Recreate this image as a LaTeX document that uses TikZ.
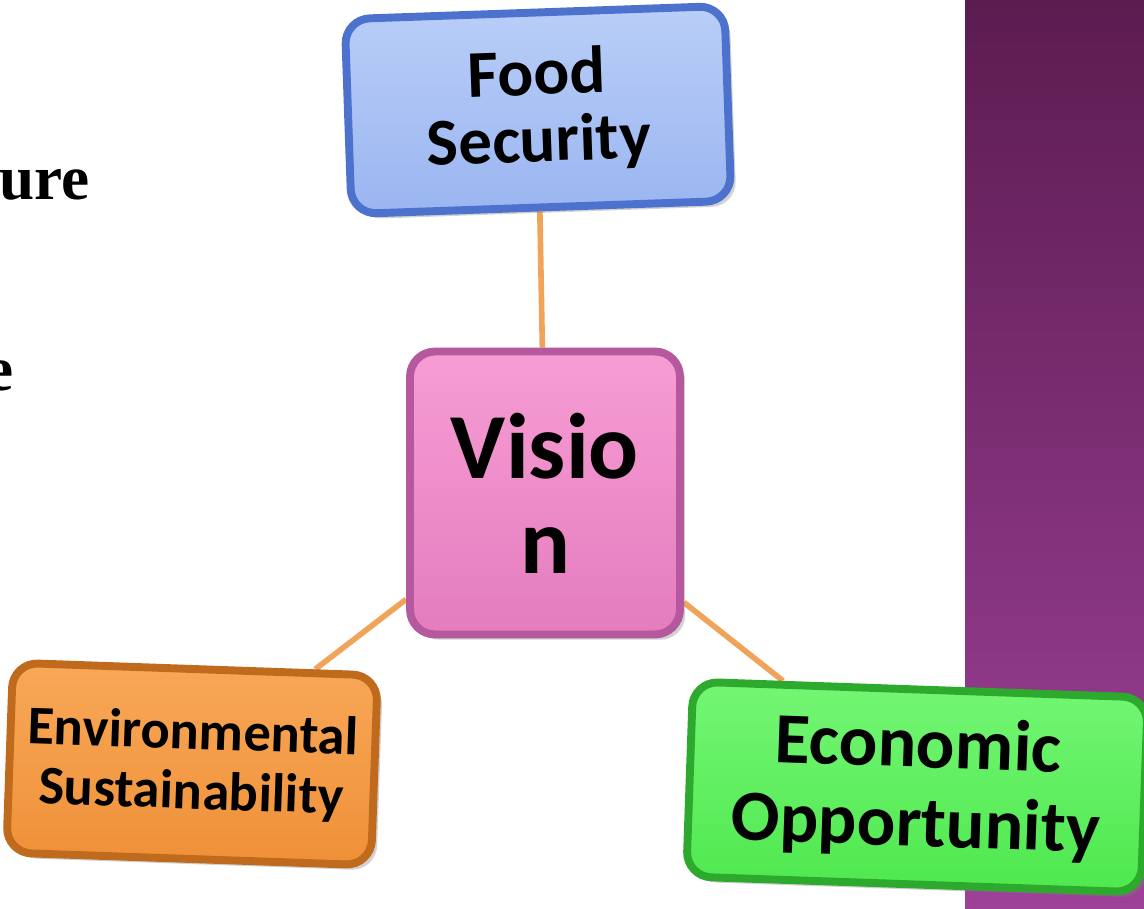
\documentclass[tikz,border=0pt]{standalone}
\usepackage{fontspec}
\setmainfont{Carlito}
\newfontfamily\slidefont{Liberation Serif}
\usetikzlibrary{shadows,backgrounds}

\definecolor{linkorange}{HTML}{F2A35A}
\definecolor{foodtop}{HTML}{B9CEF8}
\definecolor{foodbot}{HTML}{9AB5F0}
\definecolor{foodedge}{HTML}{4C72CE}
\definecolor{visiontop}{HTML}{F79DD4}
\definecolor{visionbot}{HTML}{E47CBE}
\definecolor{visionedge}{HTML}{B5589E}
\definecolor{envtop}{HTML}{F8A858}
\definecolor{envbot}{HTML}{EF9038}
\definecolor{envedge}{HTML}{C06A1E}
\definecolor{econtop}{HTML}{74F674}
\definecolor{econbot}{HTML}{4EE84E}
\definecolor{econedge}{HTML}{2DAA2D}
\definecolor{paneltop}{HTML}{5C1C50}
\definecolor{panelbot}{HTML}{9E4199}

\tikzset{
	box/.style={rounded corners=0.5cm, line width=4.5pt, align=center, inner sep=0pt,
		font=\bfseries, drop shadow={opacity=0.35, shadow xshift=3pt, shadow yshift=-3pt}},
	link/.style={draw=linkorange, line width=3.2pt},
	cuttext/.style={anchor=base east, inner sep=0pt, font=\slidefont\bfseries\fontsize{36}{40}\selectfont}
}

\begin{document}
\begin{tikzpicture}[x=0.02cm, y=-0.02cm]
		%%%%% START %%%%%
		\useasboundingbox (0, 0) rectangle (1144, 909);
		
		% cut-off slide text
		\node[cuttext] (ure) at (90, 200) {ure};
		\node[cuttext] (e) at (14, 390) {e};
		
		% the four boxes
		\node[box, draw=foodedge, top color=foodtop, bottom color=foodbot, rotate=2,
			minimum width=7.6cm, minimum height=3.9cm, font=\bfseries\fontsize{38}{38}\selectfont]
			(food) at (538, 110) {Food\\Security};
		\node[box, draw=visionedge, top color=visiontop, bottom color=visionbot,
			minimum width=5.4cm, minimum height=5.66cm, font=\bfseries\fontsize{53}{54}\selectfont]
			(vision) at (545, 493) {Visio\\n};
		\node[box, draw=envedge, top color=envtop, bottom color=envbot, rotate=-2,
			minimum width=7.3cm, minimum height=3.8cm, font=\bfseries\fontsize{31}{34}\selectfont]
			(env) at (192, 764) {Environmental\\Sustainability};
		\node[box, draw=econedge, top color=econtop, bottom color=econbot, rotate=-2,
			minimum width=9.1cm, minimum height=3.9cm, font=\bfseries\fontsize{41}{45}\selectfont]
			(econ) at (917, 787) {Economic\\Opportunity};
		
		\begin{scope}[on background layer]
			\fill[white] (0, 0) rectangle (1144, 909);
			% purple side panel
			\shade[top color=paneltop, bottom color=panelbot] (965, 0) rectangle (1144, 909);
			% connectors
			\draw[link] (food) -- (vision);
			\draw[link] (vision) -- (env);
			\draw[link] (vision) -- (econ);
		\end{scope}
		%%%%% END %%%%%
	\end{tikzpicture}
\end{document}
